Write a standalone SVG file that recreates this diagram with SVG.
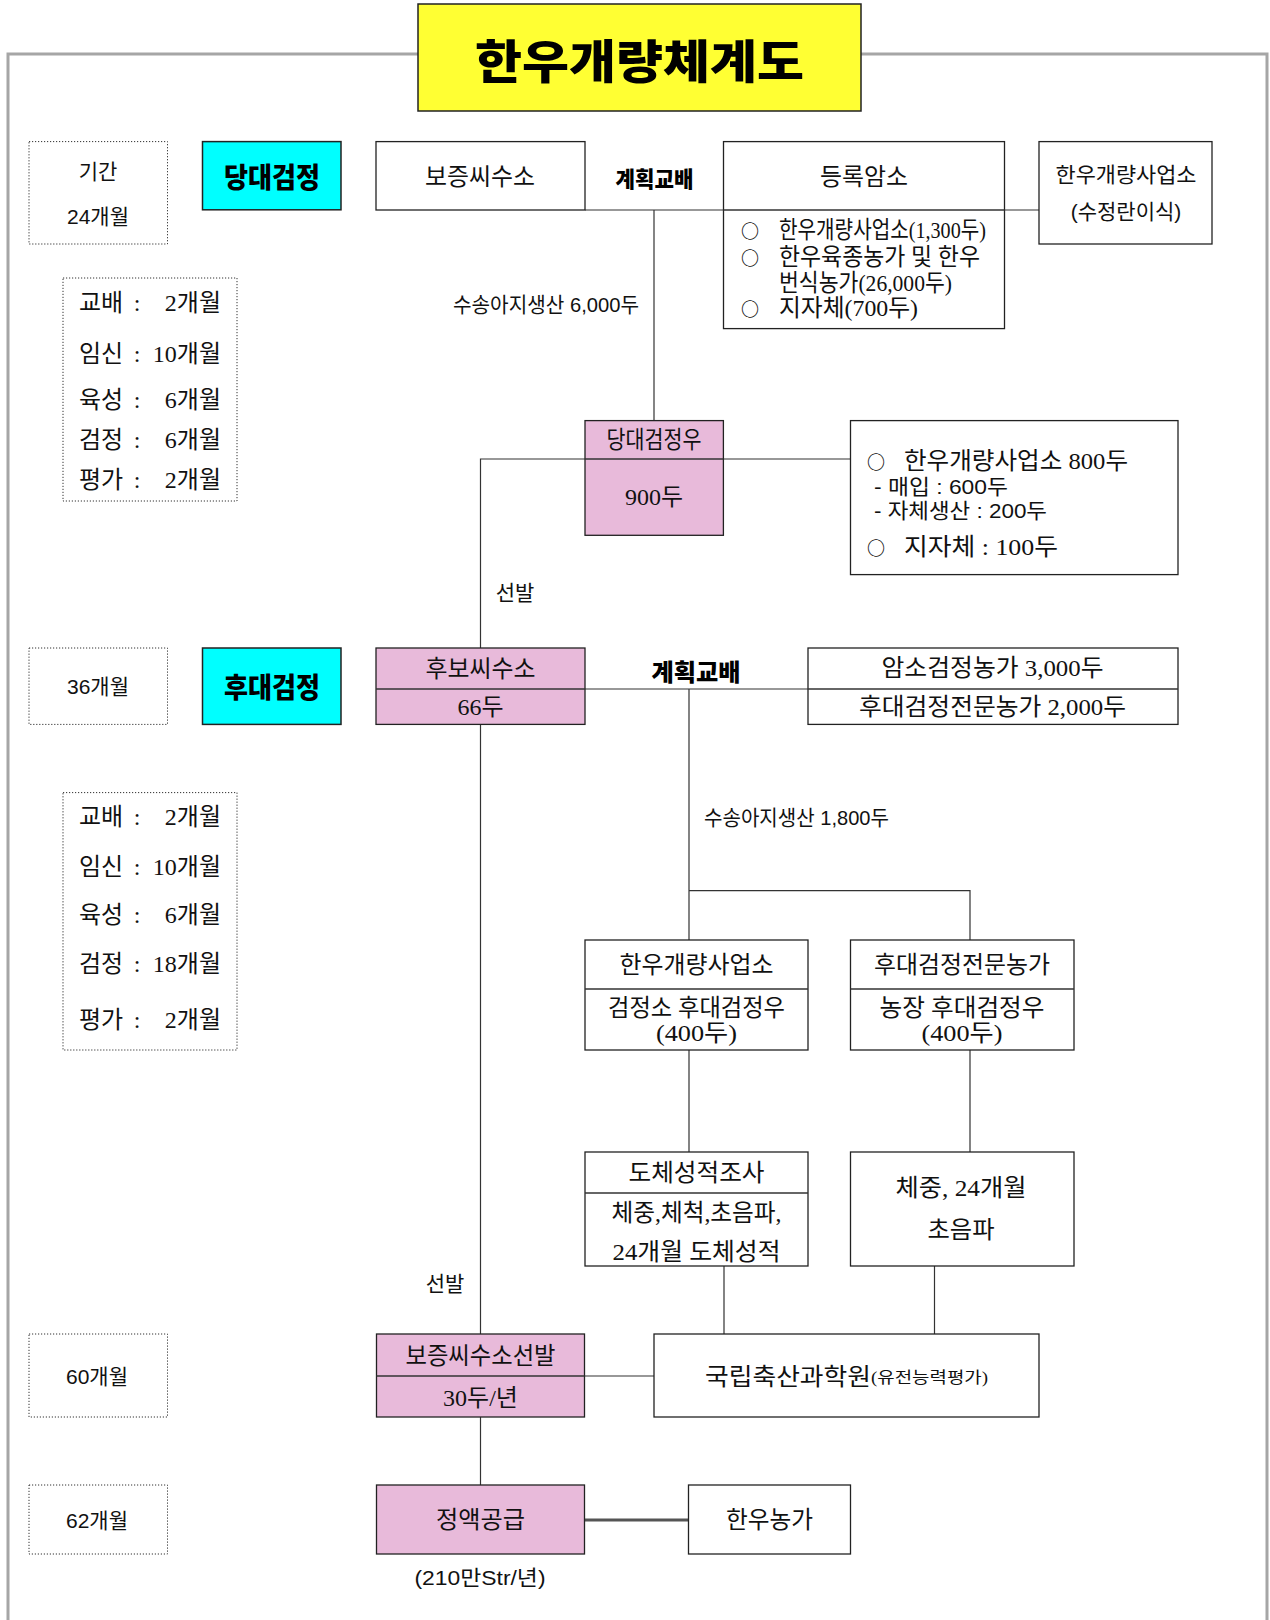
<svg xmlns="http://www.w3.org/2000/svg" width="1270" height="1620" viewBox="0 0 1270 1620">
<style>
.box{fill:#fff;stroke:#222;stroke-width:1.3}
.pink{fill:#E8BADA;stroke:#222;stroke-width:1.3}
.cyan{fill:#00FFFF;stroke:#222;stroke-width:1.5}
.dot{fill:none;stroke:#333;stroke-width:1;stroke-dasharray:1.2 1.8}
.div{stroke:#333;stroke-width:1.3;fill:none}
.conn path{fill:none;stroke:#333;stroke-width:1.2}
.t{font-family:"Liberation Serif","Noto Sans CJK KR",serif;font-size:24px;fill:#111;text-anchor:middle;dominant-baseline:central}
.s{font-family:"Liberation Sans","Noto Sans CJK KR",sans-serif;font-size:21px;fill:#111;text-anchor:middle;dominant-baseline:central}
.b{font-family:"Noto Sans CJK KR",sans-serif;font-weight:900;fill:#000;text-anchor:middle;dominant-baseline:central}
.c{font-family:"Noto Sans CJK KR",sans-serif;font-size:18px;font-weight:700;fill:#111;text-anchor:middle;dominant-baseline:central}
.l{text-anchor:start}
.e{text-anchor:end}
</style>

<!-- outer frame -->
<path d="M 8 1620 V 54 H 418 M 861 54 H 1267 V 1620" fill="none" stroke="#A6A6A6" stroke-width="3"/>

<g id="title">
<rect x="418" y="4" width="443" height="107" fill="#FFFF33" stroke="#222" stroke-width="1.5"/>
<text x="639.5" y="58" class="b" font-size="46" font-weight="700" textLength="329" lengthAdjust="spacingAndGlyphs">한우개량체계도</text>
</g>

<g class="conn" id="connectors">
<path d="M 585 210 H 1039"/>
<path d="M 654 210 V 420.6"/>
<path d="M 480.5 648 V 459 H 585 M 723.4 459 H 850.5"/>
<path d="M 585 689 H 808"/>
<path d="M 689 689 V 890.7 H 970 V 940 M 689 890.7 V 940"/>
<path d="M 480.5 724.4 V 1334"/>
<path d="M 689 1050 V 1152 M 970 1050 V 1152"/>
<path d="M 724 1266 V 1334 M 934.5 1266 V 1334"/>
<path d="M 584.5 1376 H 654"/>
<path d="M 480.5 1417 V 1485"/>
<path d="M 584.5 1520 H 688.5" style="stroke:#555;stroke-width:3"/>
</g>

<!-- left column -->
<g id="period1">
<rect class="dot" x="29" y="141.6" width="138.5" height="102.4"/>
<text class="s" x="98" y="171">기간</text>
<text class="s" x="98" y="216">24개월</text>
</g>
<g id="stage1">
<rect class="cyan" x="202.5" y="141.6" width="138.5" height="68.2"/>
<text class="b" x="272" y="176" font-size="28" textLength="96" lengthAdjust="spacingAndGlyphs">당대검정</text>
</g>
<g id="schedule1">
<rect class="dot" x="63" y="278" width="174" height="223"/>
<text class="t l" x="79" y="303">교배</text><text class="t" x="137" y="303">:</text><text class="t e" x="221" y="303">2개월</text>
<text class="t l" x="79" y="354">임신</text><text class="t" x="137" y="354">:</text><text class="t e" x="221" y="354">10개월</text>
<text class="t l" x="79" y="400">육성</text><text class="t" x="137" y="400">:</text><text class="t e" x="221" y="400">6개월</text>
<text class="t l" x="79" y="440">검정</text><text class="t" x="137" y="440">:</text><text class="t e" x="221" y="440">6개월</text>
<text class="t l" x="79" y="480">평가</text><text class="t" x="137" y="480">:</text><text class="t e" x="221" y="480">2개월</text>
</g>
<g id="period2">
<rect class="dot" x="29" y="648" width="138.5" height="76.4"/>
<text class="s" x="98" y="686">36개월</text>
</g>
<g id="stage2">
<rect class="cyan" x="202.5" y="648" width="138.5" height="76.4"/>
<text class="b" x="272" y="686" font-size="28" textLength="96" lengthAdjust="spacingAndGlyphs">후대검정</text>
</g>
<g id="schedule2">
<rect class="dot" x="63" y="792.6" width="174" height="257.4"/>
<text class="t l" x="79" y="817">교배</text><text class="t" x="137" y="817">:</text><text class="t e" x="221" y="817">2개월</text>
<text class="t l" x="79" y="866.5">임신</text><text class="t" x="137" y="866.5">:</text><text class="t e" x="221" y="866.5">10개월</text>
<text class="t l" x="79" y="915">육성</text><text class="t" x="137" y="915">:</text><text class="t e" x="221" y="915">6개월</text>
<text class="t l" x="79" y="964">검정</text><text class="t" x="137" y="964">:</text><text class="t e" x="221" y="964">18개월</text>
<text class="t l" x="79" y="1020">평가</text><text class="t" x="137" y="1020">:</text><text class="t e" x="221" y="1020">2개월</text>
</g>
<g id="period3">
<rect class="dot" x="29" y="1334" width="138.5" height="83"/>
<text class="s" x="97" y="1376">60개월</text>
</g>
<g id="period4">
<rect class="dot" x="29" y="1485" width="138.5" height="69"/>
<text class="s" x="97" y="1520">62개월</text>
</g>

<!-- row 1 -->
<g id="sire">
<rect class="box" x="376" y="141.6" width="209" height="68.4"/>
<text class="t" x="480" y="176.5" textLength="110" lengthAdjust="spacingAndGlyphs">보증씨수소</text>
</g>
<text class="b" x="654.5" y="176.5" font-size="22" textLength="78" lengthAdjust="spacingAndGlyphs">계획교배</text>
<g id="cows">
<rect class="box" x="723.5" y="141.6" width="281" height="187"/>
<line class="div" x1="723.5" y1="210" x2="1004.5" y2="210"/>
<text class="t" x="864" y="176.5" textLength="88" lengthAdjust="spacingAndGlyphs">등록암소</text>
<text class="c" x="750" y="230">○</text>
<text class="t l" x="779" y="230" font-size="23" textLength="207" lengthAdjust="spacingAndGlyphs">한우개량사업소(1,300두)</text>
<text class="c" x="750" y="257">○</text>
<text class="t l" x="779" y="257" font-size="23" textLength="201" lengthAdjust="spacingAndGlyphs">한우육종농가 및 한우</text>
<text class="t l" x="779" y="283" font-size="23" textLength="173" lengthAdjust="spacingAndGlyphs">번식농가(26,000두)</text>
<text class="c" x="750" y="308">○</text>
<text class="t l" x="779" y="308" font-size="23" textLength="139" lengthAdjust="spacingAndGlyphs">지자체(700두)</text>
</g>
<g id="et">
<rect class="box" x="1039" y="141.6" width="173" height="102.4"/>
<text class="s" x="1126" y="174" textLength="141" lengthAdjust="spacingAndGlyphs">한우개량사업소</text>
<text class="s" x="1126" y="211" font-size="19">(수정란이식)</text>
</g>
<text class="s" x="546" y="304" font-size="16" textLength="186" lengthAdjust="spacingAndGlyphs">수송아지생산 6,000두</text>

<g id="bull1">
<rect class="pink" x="585" y="420.6" width="138.4" height="114.7"/>
<line class="div" x1="585" y1="459" x2="723.4" y2="459"/>
<text class="t" x="654" y="440" textLength="95" lengthAdjust="spacingAndGlyphs">당대검정우</text>
<text class="t" x="654" y="497">900두</text>
</g>
<g id="bull1info">
<rect class="box" x="850.5" y="420.6" width="327.5" height="154"/>
<text class="c" x="876" y="461">○</text>
<text class="t l" x="904" y="461" textLength="224" lengthAdjust="spacingAndGlyphs">한우개량사업소 800두</text>
<text class="s l" x="874" y="486" font-size="18" textLength="134" lengthAdjust="spacingAndGlyphs">- 매입 : 600두</text>
<text class="s l" x="874" y="510" font-size="18" textLength="173" lengthAdjust="spacingAndGlyphs">- 자체생산 : 200두</text>
<text class="c" x="876" y="547">○</text>
<text class="t l" x="904" y="547" textLength="154" lengthAdjust="spacingAndGlyphs">지자체 : 100두</text>
</g>
<text class="s" x="515" y="592" font-size="19">선발</text>

<!-- row 2 -->
<g id="candidate">
<rect class="pink" x="376" y="648" width="209" height="76.4"/>
<line class="div" x1="376" y1="689" x2="585" y2="689"/>
<text class="t" x="480.5" y="669" textLength="110" lengthAdjust="spacingAndGlyphs">후보씨수소</text>
<text class="t" x="480.5" y="707">66두</text>
</g>
<text class="b" x="696" y="670" font-size="24" textLength="89" lengthAdjust="spacingAndGlyphs">계획교배</text>
<g id="farms">
<rect class="box" x="808" y="648" width="370" height="76.4"/>
<line class="div" x1="808" y1="689" x2="1178" y2="689"/>
<text class="t" x="992.5" y="668" textLength="222" lengthAdjust="spacingAndGlyphs">암소검정농가 3,000두</text>
<text class="t" x="992.5" y="707" textLength="267" lengthAdjust="spacingAndGlyphs">후대검정전문농가 2,000두</text>
</g>
<text class="s l" x="704" y="817" font-size="16" textLength="185" lengthAdjust="spacingAndGlyphs">수송아지생산 1,800두</text>

<g id="station">
<rect class="box" x="585" y="940" width="223" height="110"/>
<line class="div" x1="585" y1="989" x2="808" y2="989"/>
<text class="t" x="696.5" y="965" textLength="154" lengthAdjust="spacingAndGlyphs">한우개량사업소</text>
<text class="t" x="696.5" y="1008" textLength="177" lengthAdjust="spacingAndGlyphs">검정소 후대검정우</text>
<text class="t" x="696.5" y="1033" textLength="81" lengthAdjust="spacingAndGlyphs">(400두)</text>
</g>
<g id="farm">
<rect class="box" x="850.5" y="940" width="223.5" height="110"/>
<line class="div" x1="850.5" y1="989" x2="1074" y2="989"/>
<text class="t" x="962" y="965" textLength="176" lengthAdjust="spacingAndGlyphs">후대검정전문농가</text>
<text class="t" x="962" y="1008" textLength="165" lengthAdjust="spacingAndGlyphs">농장 후대검정우</text>
<text class="t" x="962" y="1033" textLength="81" lengthAdjust="spacingAndGlyphs">(400두)</text>
</g>

<g id="carcass">
<rect class="box" x="585" y="1152" width="223" height="114"/>
<line class="div" x1="585" y1="1193" x2="808" y2="1193"/>
<text class="t" x="696.5" y="1173" textLength="136" lengthAdjust="spacingAndGlyphs">도체성적조사</text>
<text class="t" x="696.5" y="1213" textLength="170" lengthAdjust="spacingAndGlyphs">체중,체척,초음파,</text>
<text class="t" x="696.5" y="1252" textLength="168" lengthAdjust="spacingAndGlyphs">24개월 도체성적</text>
</g>
<g id="weight">
<rect class="box" x="850.5" y="1152" width="223.5" height="114"/>
<text class="t" x="961" y="1188" textLength="131" lengthAdjust="spacingAndGlyphs">체중, 24개월</text>
<text class="t" x="961" y="1230" textLength="67" lengthAdjust="spacingAndGlyphs">초음파</text>
</g>
<text class="s" x="445" y="1283" font-size="19">선발</text>

<g id="proven">
<rect class="pink" x="376.5" y="1334" width="208" height="83"/>
<line class="div" x1="376.5" y1="1376" x2="584.5" y2="1376"/>
<text class="t" x="480.5" y="1356" textLength="150" lengthAdjust="spacingAndGlyphs">보증씨수소선발</text>
<text class="t" x="480.5" y="1398">30두/년</text>
</g>
<g id="nias">
<rect class="box" x="654" y="1334" width="385" height="83"/>
<text class="t l" x="705" y="1377"><tspan textLength="166" lengthAdjust="spacingAndGlyphs">국립축산과학원</tspan><tspan x="871" font-size="16" textLength="117" lengthAdjust="spacingAndGlyphs">(유전능력평가)</tspan></text>
</g>
<g id="semen">
<rect class="pink" x="376.5" y="1485" width="208" height="69"/>
<text class="t" x="480.5" y="1520" textLength="89" lengthAdjust="spacingAndGlyphs">정액공급</text>
</g>
<g id="hanwoofarm">
<rect class="box" x="688.5" y="1485" width="162" height="69"/>
<text class="t" x="769.5" y="1520" textLength="87" lengthAdjust="spacingAndGlyphs">한우농가</text>
</g>
<text class="s" x="480" y="1577" font-size="18" textLength="131" lengthAdjust="spacingAndGlyphs">(210만Str/년)</text>
</svg>
